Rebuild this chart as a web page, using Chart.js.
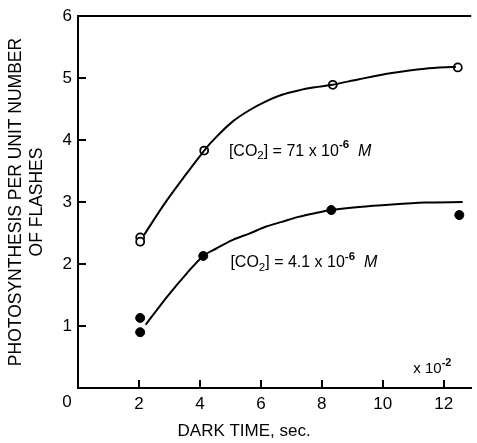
<!DOCTYPE html>
<html>
<head>
<meta charset="utf-8">
<script src="https://cdn.jsdelivr.net/npm/chart.js@4"></script>
<style>
  html, body { margin: 0; padding: 0; background: #fff; }
  #wrap { width: 477px; height: 443px; position: relative; }
</style>
</head>
<body>
<div id="wrap"><canvas id="chart"></canvas></div>
<script>
// ticks
const xTicks = [0, 2, 4, 6, 8, 10, 12]
const yTicks = [0, 1, 2, 3, 4, 5, 6]

// measured points, [CO2] = 71e-6 M (open circles)
const highX = [2.04, 2.04, 4.14, 8.36, 12.46]
const highY = [2.43, 2.36, 3.83, 4.89, 5.17]

// measured points, [CO2] = 4.1e-6 M (filled circles)
const lowX = [2.04, 2.04, 4.11, 8.31, 12.51]
const lowY = [1.13, 0.9, 2.13, 2.87, 2.79]

// drawn curves
const highCurveX = [2.17, 2.92, 4.14, 4.54, 5.08, 5.62, 6.15, 6.69, 7.23, 7.77, 8.34, 9.22, 10.3, 11.38, 12.4]
const highCurveY = [2.47, 3.03, 3.83, 4.05, 4.3, 4.48, 4.62, 4.73, 4.8, 4.85, 4.89, 4.98, 5.08, 5.15, 5.18]
const lowCurveX = [2.22, 2.92, 3.57, 4.11, 4.54, 5.08, 5.62, 6.15, 6.69, 7.23, 7.77, 8.31, 9.22, 10.3, 11.38, 12.62]
const lowCurveY = [1.02, 1.47, 1.85, 2.13, 2.25, 2.39, 2.49, 2.6, 2.68, 2.76, 2.82, 2.87, 2.92, 2.96, 2.99, 3.0]

const FONT = "'Liberation Sans', Arial, sans-serif"

const pts = (xs, ys) => xs.map((x, i) => ({ x, y: ys[i] }))

// text pieces: [text, kind]  kind: '', 'sub', 'sup', 'it'
function drawRich(ctx, x, y, parts, size) {
    let cx = x
    ctx.textBaseline = "middle"
    ctx.textAlign = "left"
    parts.forEach(([t, kind]) => {
        let s = size, dy = 0, style = ""
        if (kind === "sub") { s = size * 0.72; dy = size * 0.3 }
        if (kind === "sup") { s = size * 0.72; dy = -size * 0.4; style = "bold " }
        if (kind === "it") style = "italic "
        ctx.font = style + s + "px " + FONT
        ctx.fillText(t, cx, y + dy)
        cx += ctx.measureText(t).width
    })
}

const extras = {
    id: "extras",
    afterDraw(chart) {
        const { ctx, chartArea } = chart
        const xs = chart.scales.x, ys = chart.scales.y
        ctx.save()
        ctx.strokeStyle = "#000"
        ctx.lineWidth = 2
        ctx.beginPath()
        ctx.moveTo(chartArea.left - 1, chartArea.top)
        ctx.lineTo(chartArea.right, chartArea.top)
        ctx.stroke()

        // inward tick marks
        ctx.lineWidth = 2
        ctx.beginPath()
        xTicks.filter(v => v > 0).forEach(v => {
            const p = Math.round(xs.getPixelForValue(v))
            ctx.moveTo(p, chartArea.bottom)
            ctx.lineTo(p, chartArea.bottom - 8)
        })
        yTicks.filter(v => v > 0 && v < 6).forEach(v => {
            const p = Math.round(ys.getPixelForValue(v))
            ctx.moveTo(chartArea.left, p)
            ctx.lineTo(chartArea.left + 8, p)
        })
        ctx.stroke()

        ctx.fillStyle = "#000"
        // corner zero
        ctx.font = "17px " + FONT
        ctx.textAlign = "center"
        ctx.textBaseline = "middle"
        ctx.fillText("0", chartArea.left - 11, chartArea.bottom + 14)

        drawRich(ctx, xs.getPixelForValue(4.95), ys.getPixelForValue(3.82),
            [["[CO", ""], ["2", "sub"], ["] = 71 x 10", ""], ["-6", "sup"], ["  ", ""], ["M", "it"]], 16)
        drawRich(ctx, xs.getPixelForValue(5.0), ys.getPixelForValue(2.02),
            [["[CO", ""], ["2", "sub"], ["] = 4.1 x 10", ""], ["-6", "sup"], ["  ", ""], ["M", "it"]], 16)
        drawRich(ctx, xs.getPixelForValue(11.0), ys.getPixelForValue(0.31),
            [["x 10", ""], ["-2", "sup"]], 15)

        // x axis title
        ctx.font = "17px " + FONT
        ctx.textAlign = "center"
        ctx.textBaseline = "middle"
        ctx.fillText("DARK TIME, sec.", xs.getPixelForValue(5.45), chartArea.bottom + 43)
        ctx.restore()
    }
}

new Chart(document.getElementById("chart"), {
    type: "scatter",
    data: {
        datasets: [
            {
                type: "line",
                data: pts(highCurveX, highCurveY),
                borderColor: "#000",
                borderWidth: 2,
                pointRadius: 0,
                tension: 0.3,
                fill: false
            },
            {
                type: "line",
                data: pts(lowCurveX, lowCurveY),
                borderColor: "#000",
                borderWidth: 2,
                pointRadius: 0,
                tension: 0.3,
                fill: false
            },
            {
                data: pts(highX, highY),
                pointRadius: 4,
                pointBackgroundColor: "#fff",
                pointBorderColor: "#000",
                pointBorderWidth: 1.8
            },
            {
                data: pts(lowX, lowY),
                pointRadius: 4.5,
                pointBackgroundColor: "#000",
                pointBorderColor: "#000",
                pointBorderWidth: 1
            }
        ]
    },
    options: {
        responsive: true,
        maintainAspectRatio: false,
        animation: false,
        events: [],
        layout: { padding: { top: 16, right: 0, left: 0, bottom: 0 } },
        plugins: { legend: { display: false }, tooltip: { enabled: false } },
        scales: {
            x: {
                type: "linear",
                min: 0,
                max: 12.9,
                afterFit: s => { s.height = 55 },
                afterBuildTicks: s => { s.ticks = xTicks.map(v => ({ value: v })) },
                border: { color: "#000", width: 2 },
                grid: { display: false },
                ticks: {
                    color: "#000",
                    font: { family: FONT, size: 17 },
                    padding: -2,
                    callback: v => (v === 0 ? "" : String(v))
                }
            },
            y: {
                type: "linear",
                min: 0,
                max: 6,
                afterFit: s => { s.width = 78 },
                afterBuildTicks: s => { s.ticks = yTicks.map(v => ({ value: v })) },
                border: { color: "#000", width: 2 },
                grid: { display: false },
                ticks: {
                    color: "#000",
                    font: { family: FONT, size: 17 },
                    padding: -2,
                    callback: v => (v === 0 ? "" : String(v))
                },
                title: {
                    display: true,
                    text: ["PHOTOSYNTHESIS PER UNIT NUMBER", "OF FLASHES"],
                    color: "#000",
                    font: { family: FONT, size: 17.5 },
                    lineHeight: 1.3,
                    padding: { top: 6, bottom: 0 }
                }
            }
        }
    },
    plugins: [extras]
})
</script>
</body>
</html>
